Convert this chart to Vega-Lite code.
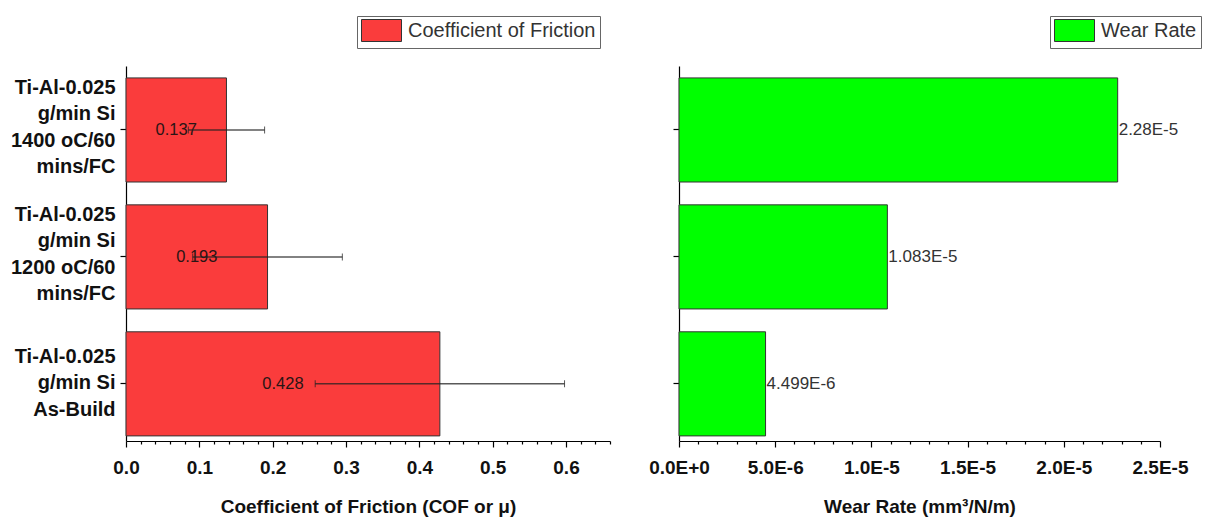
{
  "$schema": "https://vega.github.io/schema/vega-lite/v6.json",
  "padding": {"left": 10, "top": 15, "right": 5, "bottom": 5},
  "config": {
    "view": {"stroke": null},
    "font": "Liberation Sans",
    "axis": {
      "grid": false,
      "domainColor": "#000",
      "domainWidth": 1.2,
      "tickColor": "#000",
      "tickWidth": 1.2,
      "labelColor": "#111",
      "labelFont": "Liberation Sans",
      "labelFontWeight": "bold",
      "labelFontSize": 19,
      "titleColor": "#111",
      "titleFont": "Liberation Sans",
      "titleFontWeight": "bold",
      "titleFontSize": 19
    }
  },
  "datasets": {
    "d": [
      {"sample": "Ti-Al-0.025\ng/min Si\n1400 oC/60\nmins/FC", "cof": 0.137, "cof_err": 0.052, "wear": 2.28e-5},
      {"sample": "Ti-Al-0.025\ng/min Si\n1200 oC/60\nmins/FC", "cof": 0.193, "cof_err": 0.102, "wear": 1.083e-5},
      {"sample": "Ti-Al-0.025\ng/min Si\nAs-Build", "cof": 0.428, "cof_err": 0.170, "wear": 4.499e-6}
    ]
  },
  "spacing": 37,
  "resolve": {"scale": {"color": "independent"}, "legend": {"color": "independent"}},
  "hconcat": [
    {
      "width": 484,
      "height": 375,
      "data": {"name": "d"},
      "transform": [{"calculate": "datum.cof / 2", "as": "mid"}],
      "encoding": {
        "y": {
          "field": "sample",
          "type": "nominal",
          "sort": null,
          "scale": {"paddingInner": 0.18, "paddingOuter": 0.067, "align": 0.7},
          "axis": {
            "title": null,
            "labelExpr": "split(datum.label, '\\n')",
            "labelLineHeight": 26.5,
            "labelFontSize": 20,
            "labelAlign": "right",
            "labelBaseline": "middle",
            "labelOffset": {"condition": {"test": "indexof(datum.label, 'As-Build') >= 0", "value": -27}, "value": -42},
            "tickSize": 6,
            "labelPadding": 5,
            "labelLimit": 200
          }
        }
      },
      "layer": [
        {
          "mark": {"type": "bar", "stroke": "#333", "strokeWidth": 1},
          "encoding": {
            "x": {
              "field": "cof",
              "type": "quantitative",
              "scale": {"domain": [0, 0.66], "nice": false},
              "title": "Coefficient of Friction (COF or μ)",
              "axis": {
                "values": [0, 0.02, 0.04, 0.06, 0.08, 0.1, 0.12, 0.14, 0.16, 0.18, 0.2, 0.22, 0.24, 0.26, 0.28, 0.3, 0.32, 0.34, 0.36, 0.38, 0.4, 0.42, 0.44, 0.46, 0.48, 0.5, 0.52, 0.54, 0.56, 0.58, 0.6, 0.62, 0.64, 0.66],
                "labelExpr": "abs(datum.value * 10 - round(datum.value * 10)) < 0.001 ? format(datum.value, '.1f') : ''",
                "tickSize": {"condition": {"test": "abs(datum.value * 10 - round(datum.value * 10)) < 0.001", "value": 6}, "value": 3},
                "labelPadding": 11,
                "titlePadding": 20,
                "labelFlush": false,
                "labelOverlap": false
              }
            },
            "color": {
              "datum": "Coefficient of Friction",
              "scale": {"range": ["#FA3C3C"]},
              "legend": {
                "orient": "none",
                "legendX": 231,
                "legendY": -50,
                "title": null,
                "strokeColor": "#666",
                "fillColor": "white",
                "padding": 4,
                "symbolType": "M-1,-1.1L3,-1.1L3,1.1L-1,1.1Z",
                "symbolSize": 400,
                "symbolStrokeColor": "#333",
                "symbolStrokeWidth": 1,
                "symbolOpacity": 1,
                "labelFont": "Liberation Sans",
                "labelFontSize": 20,
                "labelColor": "#333",
                "labelOffset": 26,
                "labelLimit": 300
              }
            }
          }
        },
        {
          "mark": {"type": "text", "fontSize": 16.5, "color": "#2a1515", "align": "center", "baseline": "middle"},
          "encoding": {
            "x": {
              "field": "mid",
              "type": "quantitative",
              "scale": {"domain": [0, 0.66], "nice": false},
              "title": "Coefficient of Friction (COF or μ)",
              "axis": {
                "values": [0, 0.02, 0.04, 0.06, 0.08, 0.1, 0.12, 0.14, 0.16, 0.18, 0.2, 0.22, 0.24, 0.26, 0.28, 0.3, 0.32, 0.34, 0.36, 0.38, 0.4, 0.42, 0.44, 0.46, 0.48, 0.5, 0.52, 0.54, 0.56, 0.58, 0.6, 0.62, 0.64, 0.66],
                "labelExpr": "abs(datum.value * 10 - round(datum.value * 10)) < 0.001 ? format(datum.value, '.1f') : ''",
                "tickSize": {"condition": {"test": "abs(datum.value * 10 - round(datum.value * 10)) < 0.001", "value": 6}, "value": 3},
                "labelPadding": 11,
                "titlePadding": 20,
                "labelFlush": false,
                "labelOverlap": false
              }
            },
            "text": {"field": "cof", "type": "quantitative", "format": ".3f"}
          }
        },
        {
          "mark": {"type": "errorbar", "color": "#222", "opacity": 0.75, "ticks": {"size": 7}, "rule": {"strokeWidth": 1.5}},
          "encoding": {
            "x": {
              "field": "cof",
              "type": "quantitative",
              "scale": {"domain": [0, 0.66], "nice": false},
              "title": "Coefficient of Friction (COF or μ)",
              "axis": {
                "values": [0, 0.02, 0.04, 0.06, 0.08, 0.1, 0.12, 0.14, 0.16, 0.18, 0.2, 0.22, 0.24, 0.26, 0.28, 0.3, 0.32, 0.34, 0.36, 0.38, 0.4, 0.42, 0.44, 0.46, 0.48, 0.5, 0.52, 0.54, 0.56, 0.58, 0.6, 0.62, 0.64, 0.66],
                "labelExpr": "abs(datum.value * 10 - round(datum.value * 10)) < 0.001 ? format(datum.value, '.1f') : ''",
                "tickSize": {"condition": {"test": "abs(datum.value * 10 - round(datum.value * 10)) < 0.001", "value": 6}, "value": 3},
                "labelPadding": 11,
                "titlePadding": 20,
                "labelFlush": false,
                "labelOverlap": false
              }
            },
            "xError": {"field": "cof_err"}
          }
        }
      ]
    },
    {
      "width": 481,
      "height": 375,
      "data": {"name": "d"},
      "transform": [{"calculate": "upper(format(datum.wear, '.4~e'))", "as": "wlabel"}],
      "encoding": {
        "y": {
          "field": "sample",
          "type": "nominal",
          "sort": null,
          "scale": {"paddingInner": 0.18, "paddingOuter": 0.067, "align": 0.7},
          "axis": {"title": null, "labels": false, "tickSize": 6}
        },
        "x": {
          "field": "wear",
          "type": "quantitative",
          "scale": {"domain": [0, 2.5e-5], "nice": false},
          "title": "Wear Rate (mm³/N/m)",
          "axis": {
            "values": [0, 1e-6, 2e-6, 3e-6, 4e-6, 5e-6, 6e-6, 7e-6, 8e-6, 9e-6, 1e-5, 1.1e-5, 1.2e-5, 1.3e-5, 1.4e-5, 1.5e-5, 1.6e-5, 1.7e-5, 1.8e-5, 1.9e-5, 2e-5, 2.1e-5, 2.2e-5, 2.3e-5, 2.4e-5, 2.5e-5],
            "labelExpr": "abs(datum.value / 5e-6 - round(datum.value / 5e-6)) < 0.001 ? upper(format(datum.value, '.1e')) : ''",
            "tickSize": {"condition": {"test": "abs(datum.value / 5e-6 - round(datum.value / 5e-6)) < 0.001", "value": 6}, "value": 3},
            "labelPadding": 11,
            "titlePadding": 20,
            "labelFlush": false,
            "labelOverlap": false
          }
        }
      },
      "layer": [
        {
          "mark": {"type": "bar", "stroke": "#333", "strokeWidth": 1},
          "encoding": {
            "color": {
              "datum": "Wear Rate",
              "scale": {"range": ["#00FF00"]},
              "legend": {
                "orient": "none",
                "legendX": 371,
                "legendY": -50,
                "title": null,
                "strokeColor": "#666",
                "fillColor": "white",
                "padding": 4,
                "symbolType": "M-1,-1.1L3,-1.1L3,1.1L-1,1.1Z",
                "symbolSize": 400,
                "symbolStrokeColor": "#333",
                "symbolStrokeWidth": 1,
                "symbolOpacity": 1,
                "labelFont": "Liberation Sans",
                "labelFontSize": 20,
                "labelColor": "#333",
                "labelOffset": 26,
                "labelLimit": 300
              }
            }
          }
        },
        {
          "mark": {"type": "text", "fontSize": 17, "color": "#333", "align": "left", "baseline": "middle", "dx": 1},
          "encoding": {
            "text": {"field": "wlabel", "type": "nominal"}
          }
        }
      ]
    }
  ]
}
